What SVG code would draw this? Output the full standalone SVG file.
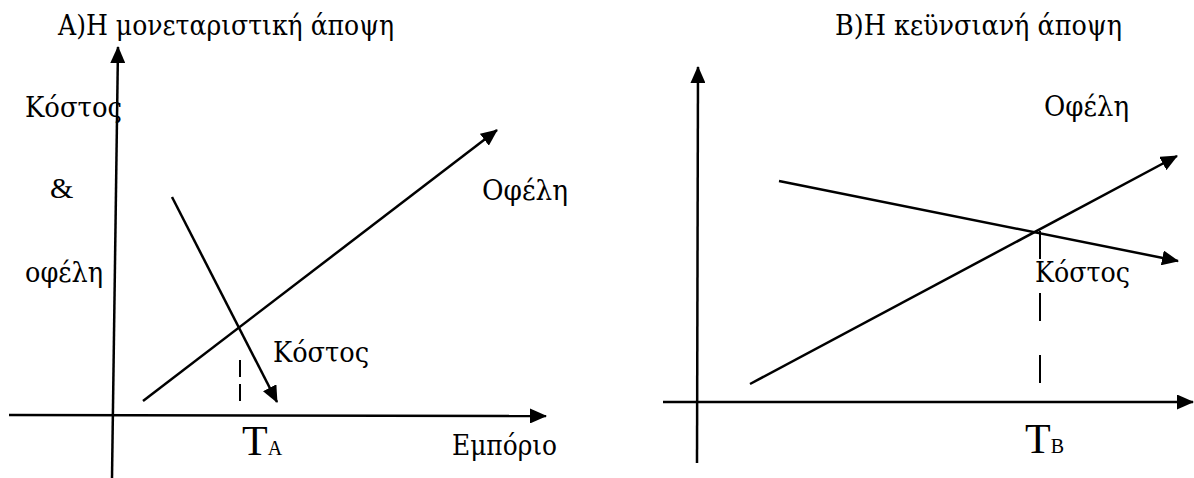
<svg xmlns="http://www.w3.org/2000/svg" width="1194" height="478" viewBox="0 0 1194 478">
<style>
text{font-family:"Liberation Serif","Times New Roman",serif;font-size:30px;fill:#000}
.gr{font-family:"DejaVu Serif","Liberation Serif",serif;font-size:27px}
.ln{stroke:#000;stroke-width:2.5;fill:none}
.ax{stroke:#000;stroke-width:2.5;fill:none}
.ds{stroke:#000;stroke-width:2;fill:none}
.big{font-size:42px}
.sub{font-size:20px}
</style>
<defs>
<marker id="ah" markerUnits="userSpaceOnUse" markerWidth="17" markerHeight="15" viewBox="0 0 17 15" refX="16" refY="7.5" orient="auto">
<path d="M0,0 L17,7.5 L0,15 Z" fill="#000"/>
</marker>
</defs>
<rect width="1194" height="478" fill="#fff"/>
<g id="connectors">
<line class="ax" x1="112" y1="478" x2="118" y2="47" marker-end="url(#ah)"/>
<line class="ax" x1="9" y1="415" x2="546" y2="416" marker-end="url(#ah)"/>
<line class="ln" x1="143" y1="401" x2="497" y2="130" marker-end="url(#ah)"/>
<line class="ln" x1="172" y1="197" x2="277" y2="402" marker-end="url(#ah)"/>
<line class="ds" x1="240" y1="360" x2="240" y2="402" stroke-dasharray="17 7"/>
<line class="ax" x1="697" y1="463" x2="698" y2="67" marker-end="url(#ah)"/>
<line class="ax" x1="663" y1="402" x2="1193" y2="402" marker-end="url(#ah)"/>
<line class="ln" x1="750" y1="384" x2="1177" y2="156" marker-end="url(#ah)"/>
<line class="ln" x1="779" y1="181" x2="1178" y2="261" marker-end="url(#ah)"/>
<line class="ds" x1="1040" y1="231" x2="1040" y2="385" stroke-dasharray="28 34"/>
</g>
<g id="panel-a-labels">
<text id="title-a" class="gr" x="58" y="35" textLength="336" lengthAdjust="spacingAndGlyphs">Α)Η μονεταριστική άποψη</text>
<text id="ylabel-1" class="gr" x="25" y="117" textLength="97" lengthAdjust="spacingAndGlyphs">Κόστος</text>
<text id="ylabel-2" x="50" y="198">&amp;</text>
<text id="ylabel-3" class="gr" x="25" y="282" textLength="78" lengthAdjust="spacingAndGlyphs">οφέλη</text>
<text id="benefit-a" class="gr" x="482" y="200" textLength="86" lengthAdjust="spacingAndGlyphs">Οφέλη</text>
<text id="cost-a" class="gr" x="273" y="362" textLength="96" lengthAdjust="spacingAndGlyphs">Κόστος</text>
<text id="ta" x="242" y="455"><tspan class="big">T</tspan><tspan class="sub">A</tspan></text>
<text id="xlabel-a" class="gr" x="452" y="455" textLength="105" lengthAdjust="spacingAndGlyphs">Εμπόριο</text>
</g>
<g id="panel-b-labels">
<text id="title-b" class="gr" x="835" y="35" textLength="287" lengthAdjust="spacingAndGlyphs">Β)Η κεϋνσιανή άποψη</text>
<text id="benefit-b" class="gr" x="1044" y="116" textLength="85" lengthAdjust="spacingAndGlyphs">Οφέλη</text>
<text id="cost-b" class="gr" x="1035" y="282" textLength="95" lengthAdjust="spacingAndGlyphs">Κόστος</text>
<text id="tb" x="1025" y="453"><tspan class="big">T</tspan><tspan class="sub">B</tspan></text>
</g>
</svg>
